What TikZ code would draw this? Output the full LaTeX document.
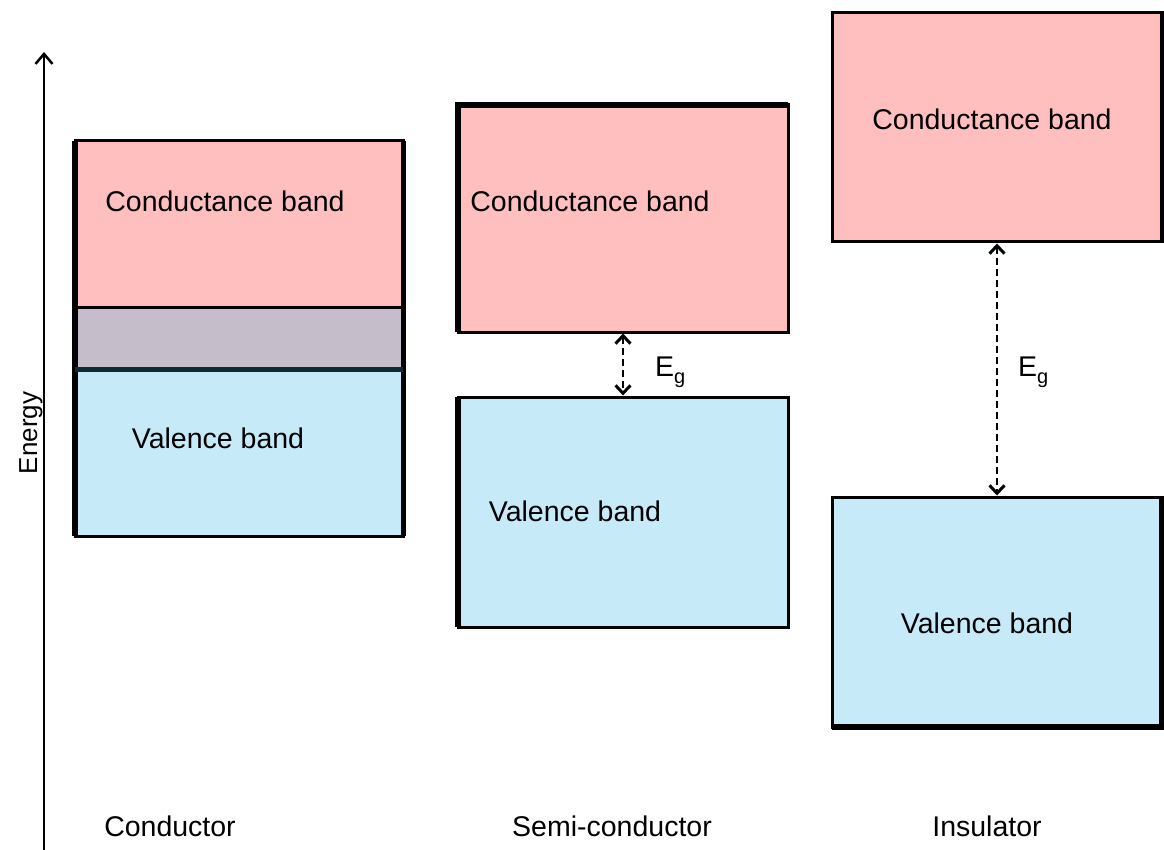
\documentclass[tikz,border=0pt]{standalone}
\usepackage{fontspec}
\setmainfont{Liberation Sans}
\usetikzlibrary{arrows.meta,calc}
\definecolor{cpink}{HTML}{FFBFBF}
\definecolor{cblue}{HTML}{C6EAF8}
\definecolor{cgray}{HTML}{C6BDCB}
\definecolor{cdark}{HTML}{0E2A35}
\begin{document}
\begin{tikzpicture}[x=1pt,y=-1pt,
 band/.style={draw=black,line width=3pt,inner sep=0pt,outer sep=0pt,anchor=north west,minimum width=330pt},
 lbl/.style={font=\fontsize{28.5}{34}\selectfont,inner sep=0pt},
 thick side/.style={line width=6pt},
 gaparrow/.style={dash pattern=on 7pt off 4pt, line width=2.5pt,
   {Straight Barb[length=8pt,width=15pt,line width=3pt]}-{Straight Barb[length=8pt,width=15pt,line width=3pt]},
   shorten <=1.5pt, shorten >=1.5pt},
]
\useasboundingbox (0,0) rectangle (1164,850);

% energy axis
\coordinate (a0) at (44,850);
\coordinate (a1) at (44,52);
\draw[line width=2.5pt,-{Straight Barb[length=10pt,width=17pt,line width=2.5pt]}] (a0) -- (a1);
\node[lbl,rotate=90,anchor=base,font=\fontsize{26}{30}\selectfont] (energy) at (37,433) {Energy};

% conductor
\node[band,fill=cpink,minimum width=328pt,minimum height=166pt] (ccb) at (75,141) {};
\node[band,fill=cgray,minimum width=328pt,minimum height=62pt] (cmid) at (75,307) {};
\node[band,fill=cblue,minimum width=328pt,minimum height=167pt] (cvb) at (75,369) {};
\draw[line width=5.5pt] (ccb.north west) -- (cvb.south west);
\draw[line width=5pt] (ccb.north east) -- (cvb.south east);
\draw[cdark,line width=5pt] (cvb.north west) -- (cvb.north east);
\node[lbl] (t1) at (225,201) {Conductance band};
\node[lbl] (t2) at (218,438) {Valence band};

% semiconductor
\node[band,fill=cpink,minimum height=227pt] (scb) at (458,105) {};
\node[band,fill=cblue,minimum height=230pt] (svb) at (458,397) {};
\draw[thick side] (scb.south west) -- (scb.north west) -- (scb.north east);
\draw[thick side] (svb.north west) -- (svb.south west);
\node[lbl] (t3) at (590,201) {Conductance band};
\node[lbl] (t4) at (575,511) {Valence band};
\draw[gaparrow] (scb.south) -- (svb.north);
\node[lbl,anchor=west] (eg1) at (655,372) {E\raisebox{-7pt}{\fontsize{20}{20}\selectfont g}};

% insulator
\node[band,fill=cpink,minimum height=229pt] (icb) at (832,13) {};
\node[band,fill=cblue,minimum height=230pt] (ivb) at (832,497) {};
\draw[line width=4.5pt] (icb.north east) -- (icb.south east);
\draw[thick side] (ivb.north east) -- (ivb.south east) -- (ivb.south west);
\node[lbl] (t5) at (992,119) {Conductance band};
\node[lbl] (t6) at (987,623) {Valence band};
\draw[gaparrow] (icb.south) -- (ivb.north);
\node[lbl,anchor=west] (eg2) at (1018,372) {E\raisebox{-7pt}{\fontsize{20}{20}\selectfont g}};

% captions
\node[lbl] (c1) at (170,826) {Conductor};
\node[lbl] (c2) at (612,826) {Semi-conductor};
\node[lbl] (c3) at (987,826) {Insulator};
\end{tikzpicture}
\end{document}
